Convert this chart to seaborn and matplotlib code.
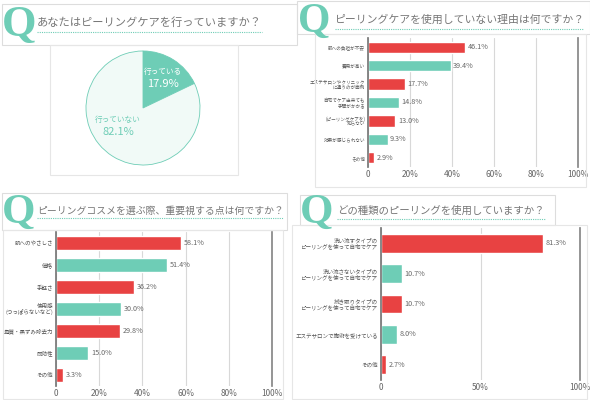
import matplotlib
matplotlib.use("Agg")
import matplotlib.pyplot as plt
import seaborn as sns
import pandas as pd
from matplotlib.patches import Rectangle
from matplotlib.lines import Line2D

# --- data ---
q1_title = "あなたはピーリングケアを行っていますか？"
q1_labels = ["行っている", "行っていない"]
q1_values = [17.9, 82.1]

q2_title = "ピーリングケアを使用していない理由は何ですか？"
q2_labels = ["肌への負担が不安", "費用が高い", "エステサロンやクリニック\nに通うのが面倒",
             "自宅でケア出来ても\n手間がかかる", "(ピーリングケアを)\n知らない",
             "効果が感じられない", "その他"]
q2_values = [46.1, 39.4, 17.7, 14.8, 13.0, 9.3, 2.9]

q3_title = "ピーリングコスメを選ぶ際、重要視する点は何ですか？"
q3_labels = ["肌へのやさしさ", "価格", "手軽さ", "使用感\n(つっぱらないなど)",
             "角質・黒ずみ除去力", "即効性", "その他"]
q3_values = [58.1, 51.4, 36.2, 30.0, 29.8, 15.0, 3.3]

q4_title = "どの種類のピーリングを使用していますか？"
q4_labels = ["洗い流すタイプの\nピーリングを使って自宅でケア", "洗い流さないタイプの\nピーリングを使って自宅でケア",
             "拭き取りタイプの\nピーリングを使って自宅でケア", "エステサロンで施術を受けている", "その他"]
q4_values = [81.3, 10.7, 10.7, 8.0, 2.7]

RED = "#E84242"
TEAL = "#6ECDB6"
LIGHT = "#F1FAF7"

sns.set_theme(style="white")
plt.rcParams["font.family"] = ["Noto Sans CJK JP", "DejaVu Sans"]

W, H = 590, 400
fig = plt.figure(figsize=(5.9, 4.0), dpi=100)
fig.patch.set_facecolor("white")


def box(x0, y0, x1, y1, ec="#dddddd", lw=0.8):
    fig.patches.append(Rectangle((x0 / W, 1 - y1 / H), (x1 - x0) / W, (y1 - y0) / H,
                                 transform=fig.transFigure, fill=False, ec=ec, lw=lw))


def header(qx, qbase, qsize, tx, ty, title, size, width, line_y):
    # big Q + question text with dotted underline
    fig.text(qx / W, 1 - qbase / H, "Q", family="Liberation Serif", fontsize=qsize, color=TEAL,
             ha="left", va="baseline", fontweight="bold")
    fig.text(tx / W, 1 - ty / H, title, fontsize=size, color="#777777",
             ha="left", va="center")
    fig.lines.append(Line2D([tx / W, (tx + width) / W], [1 - line_y / H] * 2,
                            transform=fig.transFigure, color=TEAL, lw=0.8, ls=(0, (1, 1))))


def bars(ax, labels, values, ticks, ticklabels, lsize):
    df = pd.DataFrame({"label": labels, "value": values})
    colors = [RED if i % 2 == 0 else TEAL for i in range(len(labels))]
    sns.barplot(data=df, x="value", y="label", hue="label", palette=colors,
                legend=False, width=0.62, ax=ax, orient="h", saturation=1)
    ax.set_xlim(0, 100)
    ax.set_xticks(ticks)
    ax.set_xticklabels(ticklabels, fontsize=6, color="#666666")
    ax.tick_params(axis="y", labelsize=lsize, colors="#555555", length=0, pad=2)
    ax.tick_params(axis="x", length=0, pad=2)
    for t in ax.get_yticklabels():
        t.set_linespacing(1.0)
    ax.set_xlabel("")
    ax.set_ylabel("")
    ax.xaxis.grid(True, color="#d8d8d8", lw=0.8)
    ax.set_axisbelow(True)
    for s in ["top", "bottom"]:
        ax.spines[s].set_visible(False)
    ax.spines["left"].set_color("#777777")
    ax.spines["right"].set_color("#888888")
    for i, v in enumerate(values):
        ax.text(v + 1.2, i, f"{v:.1f}%", fontsize=5.2, color="#666666", va="center", ha="left")


# ---- panel 1: pie ----
box(2, 4, 297, 45)
box(50, 45, 238, 175, ec="#e6e6e6")
header(2, 36, 32, 37, 23, q1_title, 8.1, 225, 32)
ax1 = fig.add_axes([86 / W, 1 - 165 / H, 114 / W, 114 / H])
ax1.pie(q1_values, colors=[TEAL, LIGHT], startangle=90, counterclock=False,
        wedgeprops=dict(edgecolor=TEAL, linewidth=0.6))
ax1.set_xlim(-1, 1)
ax1.set_ylim(-1, 1)
ax1.set_aspect("equal")
fig.text(163 / W, 1 - 72 / H, q1_labels[0], fontsize=5.5, color="white", ha="center", va="center")
fig.text(163 / W, 1 - 84 / H, f"{q1_values[0]}%", fontsize=8, color="white", ha="center", va="center")
fig.text(118 / W, 1 - 120 / H, q1_labels[1], fontsize=5.5, color=TEAL, ha="center", va="center")
fig.text(118 / W, 1 - 132 / H, f"{q1_values[1]}%", fontsize=8, color=TEAL, ha="center", va="center")

# ---- panel 2 ----
box(297, 1, 590, 34)
box(315, 34, 586, 187, ec="#e6e6e6")
header(298, 32, 30, 335, 20, q2_title, 7.8, 248, 29)
ax2 = fig.add_axes([368 / W, 1 - 167 / H, 210 / W, 129 / H])
bars(ax2, q2_labels, q2_values, [0, 20, 40, 60, 80, 100], ["0", "20%", "40%", "60%", "80%", "100%"], 3.3)

# ---- panel 3 ----
box(2, 193, 287, 230)
box(3, 230, 283, 399, ec="#e6e6e6")
header(2, 223, 31, 37, 211, q3_title, 7.1, 246, 218)
ax3 = fig.add_axes([56 / W, 1 - 386 / H, 216 / W, 154 / H])
bars(ax3, q3_labels, q3_values, [0, 20, 40, 60, 80, 100], ["0", "20%", "40%", "60%", "80%", "100%"], 4.0)

# ---- panel 4 ----
box(300, 195, 555, 225)
box(292, 225, 587, 399, ec="#e6e6e6")
header(300, 223, 31, 337, 211, q4_title, 7.5, 208, 219)
ax4 = fig.add_axes([381 / W, 1 - 380 / H, 199 / W, 152 / H])
bars(ax4, q4_labels, q4_values, [0, 50, 100], ["0", "50%", "100%"], 4.0)

fig.savefig("out.png", dpi=100, facecolor="white")
